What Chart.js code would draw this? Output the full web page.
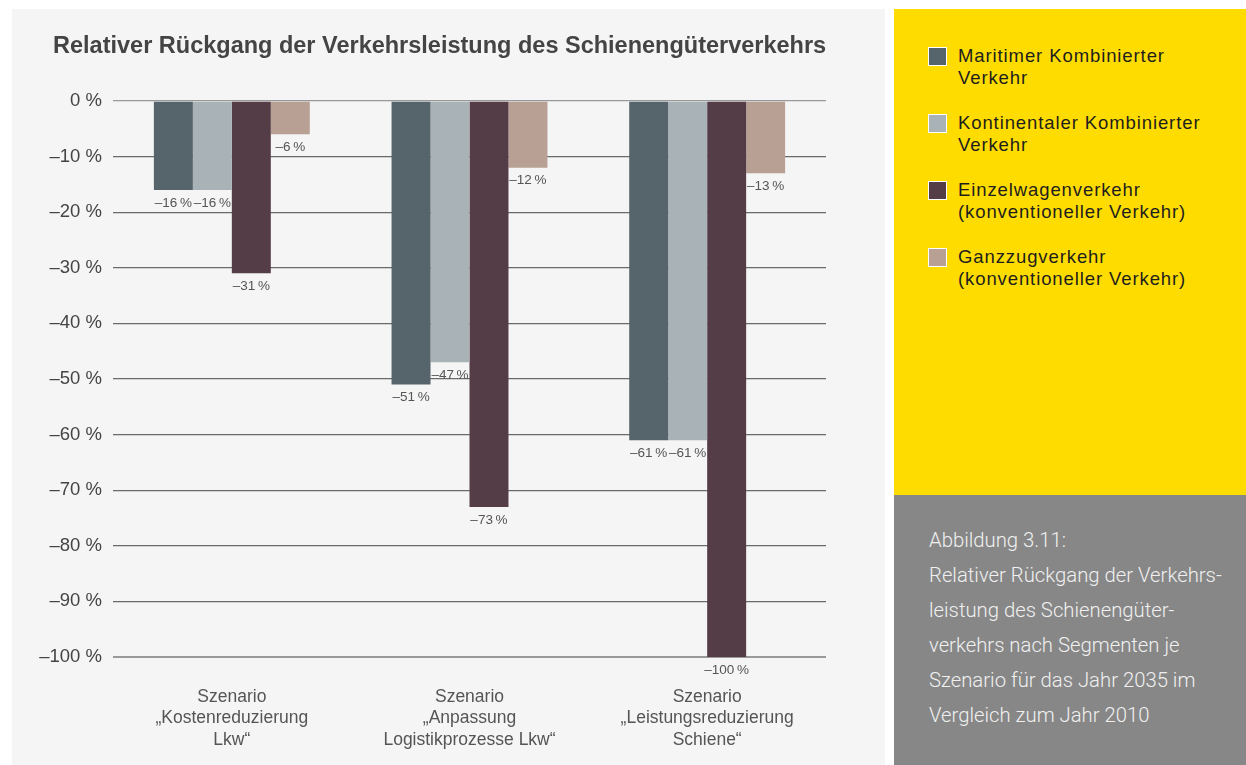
<!DOCTYPE html>
<html lang="de">

<head>
    <meta charset="UTF-8">
    <title>Relativer Rückgang der Verkehrsleistung</title>
    <style>
        body {
            margin: 0;
            background-color: #ffffff;
            font-family: 'Liberation Sans', Arial, sans-serif;
            width: 1246px;
            height: 765px;
            position: relative;
            overflow: hidden;
        }

        .panel {
            position: absolute;
            left: 12px;
            top: 9px;
            width: 873px;
            height: 756px;
            background-color: #f5f5f5;
        }

        .title {
            position: absolute;
            left: 41px;
            top: 23px;
            font-size: 23.5px;
            font-weight: 700;
            color: #444444;
            white-space: nowrap;
        }

        .legendBox {
            position: absolute;
            left: 894px;
            top: 9px;
            width: 352px;
            height: 486px;
            background-color: #ffdc00;
        }

        .legendItem {
            position: absolute;
            left: 34px;
            font-size: 18.5px;
            letter-spacing: 0.9px;
            line-height: 22px;
            color: #1e1e1e;
            white-space: nowrap;
        }

        .legendItem .sw {
            position: absolute;
            left: 0;
            top: 2px;
            width: 17px;
            height: 17px;
            border: 1px solid #ffffff;
        }

        .legendItem .txt {
            margin-left: 30px;
        }

        .caption {
            position: absolute;
            left: 894px;
            top: 495px;
            width: 352px;
            height: 270px;
            background-color: #878787;
            color: #f0f0f0;
        }

        .caption div {
            position: absolute;
            left: 35px;
            top: 28px;
            font-size: 20.3px;
            line-height: 35px;
            font-weight: 300;
            white-space: nowrap;
            font-family: 'Roboto', 'Liberation Sans', sans-serif;
        }
    </style>
</head>

<body>
    <div class="panel">
        <canvas id="chartContainer" width="873" height="756"></canvas>
        <div class="title">Relativer Rückgang der Verkehrsleistung des Schienengüterverkehrs</div>
    </div>
    <div class="legendBox" id="legendBox"></div>
    <div class="caption">
        <div>Abbildung 3.11:<br>Relativer Rückgang der Verkehrs-<br>leistung des Schienengüter-<br>verkehrs nach Segmenten je<br>Szenario für das Jahr 2035 im<br>Vergleich zum Jahr 2010</div>
    </div>

    <script src="https://cdn.jsdelivr.net/npm/chart.js@4"></script>
    <script>
        // scenarios (x categories)
        const scenarios = [
            ["Szenario", "„Kostenreduzierung", "Lkw“"],
            ["Szenario", "„Anpassung", "Logistikprozesse Lkw“"],
            ["Szenario", "„Leistungsreduzierung", "Schiene“"]
        ];

        const seriesNames = [
            ["Maritimer Kombinierter", "Verkehr"],
            ["Kontinentaler Kombinierter", "Verkehr"],
            ["Einzelwagenverkehr", "(konventioneller Verkehr)"],
            ["Ganzzugverkehr", "(konventioneller Verkehr)"]
        ];
        const seriesColors = ["#56646b", "#a9b2b7", "#553d47", "#b9a094"];

        // values in percent
        const maritim = [-16, -51, -61];
        const kontinental = [-16, -47, -61];
        const einzelwagen = [-31, -73, -100];
        const ganzzug = [-6, -12, -13];

        const yTicks = [0, -10, -20, -30, -40, -50, -60, -70, -80, -90, -100];

        const seriesValues = [maritim, kontinental, einzelwagen, ganzzug];

        // legend in the yellow box
        const legendBox = document.getElementById("legendBox");
        seriesNames.forEach((name, i) => {
            let item = document.createElement("div");
            item.className = "legendItem";
            item.style.top = (36 + i * 67) + "px";
            item.innerHTML = `<span class="sw" style="background:${seriesColors[i]}"></span><div class="txt">${name.join("<br>")}</div>`;
            legendBox.appendChild(item);
        });

        const fmt = (v) => (v < 0 ? "\u2013" + Math.abs(v) : "" + v);

        // value labels under each bar
        const barLabels = {
            id: "barLabels",
            afterDatasetsDraw(chart) {
                const c = chart.ctx;
                c.save();
                c.font = "13.5px 'Liberation Sans', Arial, sans-serif";
                c.fillStyle = "#555555";
                c.textAlign = "center";
                c.textBaseline = "middle";
                chart.data.datasets.forEach((ds, i) => {
                    chart.getDatasetMeta(i).data.forEach((bar, j) => {
                        c.fillText(fmt(ds.data[j]) + "\u2009%", bar.x, bar.y + 13);
                    });
                });
                c.restore();
            }
        };

        const ctx = document.getElementById("chartContainer");
        const mainChart = new Chart(ctx, {
            type: "bar",
            data: {
                labels: scenarios,
                datasets: seriesValues.map((vals, i) => ({
                    label: seriesNames[i].join(" "),
                    data: vals,
                    backgroundColor: seriesColors[i],
                    borderWidth: 0,
                    barPercentage: 1,
                    categoryPercentage: 0.656
                }))
            },
            options: {
                responsive: false,
                animation: false,
                events: [],
                layout: {
                    padding: { top: 92, right: 59, left: 0, bottom: 0 }
                },
                plugins: {
                    legend: { display: false },
                    tooltip: { enabled: false }
                },
                scales: {
                    x: {
                        grid: { display: false },
                        border: { display: false },
                        ticks: {
                            color: "#555555",
                            padding: 21,
                            maxRotation: 0,
                            font: { size: 17.5, family: "'Liberation Sans', Arial, sans-serif", lineHeight: 1.23 }
                        },
                        afterFit(scale) { scale.height = 108; }
                    },
                    y: {
                        min: -100,
                        max: 0,
                        afterBuildTicks(scale) {
                            scale.ticks = yTicks.map(v => ({ value: v }));
                        },
                        border: { display: false },
                        grid: {
                            drawTicks: false,
                            color: (c) => (c.tick.value === 0 || c.tick.value === -100) ? "#999999" : "#6a6a6a",
                            lineWidth: (c) => (c.tick.value === -100) ? 2 : 1.3
                        },
                        ticks: {
                            color: "#444444",
                            padding: 11,
                            font: { size: 18.5, family: "'Liberation Sans', Arial, sans-serif" },
                            callback: (v) => fmt(v) + " %"
                        },
                        afterFit(scale) { scale.width = 101; }
                    }
                }
            },
            plugins: [barLabels]
        });
    </script>
</body>

</html>
